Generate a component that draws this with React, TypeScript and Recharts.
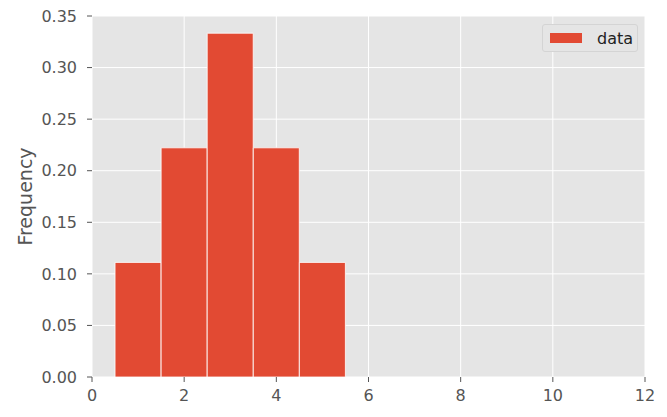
import { ComposedChart, Bar, XAxis, YAxis, CartesianGrid } from "recharts";

// histogram bins (centre of each unit-wide bin) and their relative frequency
const binCenters = [1, 2, 3, 4, 5];
const frequencies = [0.1111, 0.2222, 0.3333, 0.2222, 0.1111];
const xTicks = [0, 2, 4, 6, 8, 10, 12];
const yTicks = [0, 0.05, 0.1, 0.15, 0.2, 0.25, 0.3, 0.35];
const seriesName = "data";

const data = binCenters.map((c, i) => ({ x: c, data: frequencies[i] }));

const FONT = "'DejaVu Sans', sans-serif";

function LegendBox() {
    return (
        <div
            style={{
                position: "absolute",
                top: 24,
                left: 542,
                width: 96,
                height: 28,
                boxSizing: "border-box",
                display: "flex",
                alignItems: "center",
                background: "#E5E5E5",
                border: "1px solid #D4D4D4",
                borderRadius: 3,
                paddingLeft: 7,
                fontFamily: FONT,
                fontSize: 16,
                color: "#222",
            }}
        >
            <span style={{ display: "inline-block", width: 32, height: 10, background: "#E24A33", marginRight: 15 }} />
            <span>{seriesName}</span>
        </div>
    );
}

export default function App() {
    return (
        <div style={{ position: "absolute", left: 0, top: 0, width: 667, height: 417, background: "#fff" }}>
            <ComposedChart width={667} height={417} data={data} margin={{ top: 16, right: 22, left: 0, bottom: 0 }} barGap={0}>
                <CartesianGrid fill="#E5E5E5" stroke="#fff" strokeWidth={1} />
                <XAxis
                    dataKey="x"
                    type="number"
                    domain={[0, 12]}
                    ticks={xTicks}
                    allowDataOverflow
                    height={40}
                    axisLine={false}
                    tickLine={{ stroke: "#555" }}
                    tickSize={5}
                    tickMargin={8}
                    tick={{ fill: "#555", fontSize: 16, fontFamily: FONT }}
                />
                <YAxis
                    type="number"
                    domain={[0, 0.35]}
                    ticks={yTicks}
                    width={92}
                    axisLine={false}
                    tickLine={{ stroke: "#555" }}
                    tickSize={5}
                    tickMargin={10}
                    tickFormatter={(v: number) => v.toFixed(2)}
                    tick={{ fill: "#555", fontSize: 16, fontFamily: FONT }}
                    label={{ value: "Frequency", angle: -90, position: "insideLeft", offset: 25, style: { fill: "#555", fontSize: 19, fontFamily: FONT, textAnchor: "middle" } }}
                />
                <Bar dataKey="data" fill="#E24A33" stroke="#fff" strokeWidth={0.8} barSize={46} isAnimationActive={false} />
            </ComposedChart>
            <LegendBox />
        </div>
    );
}
